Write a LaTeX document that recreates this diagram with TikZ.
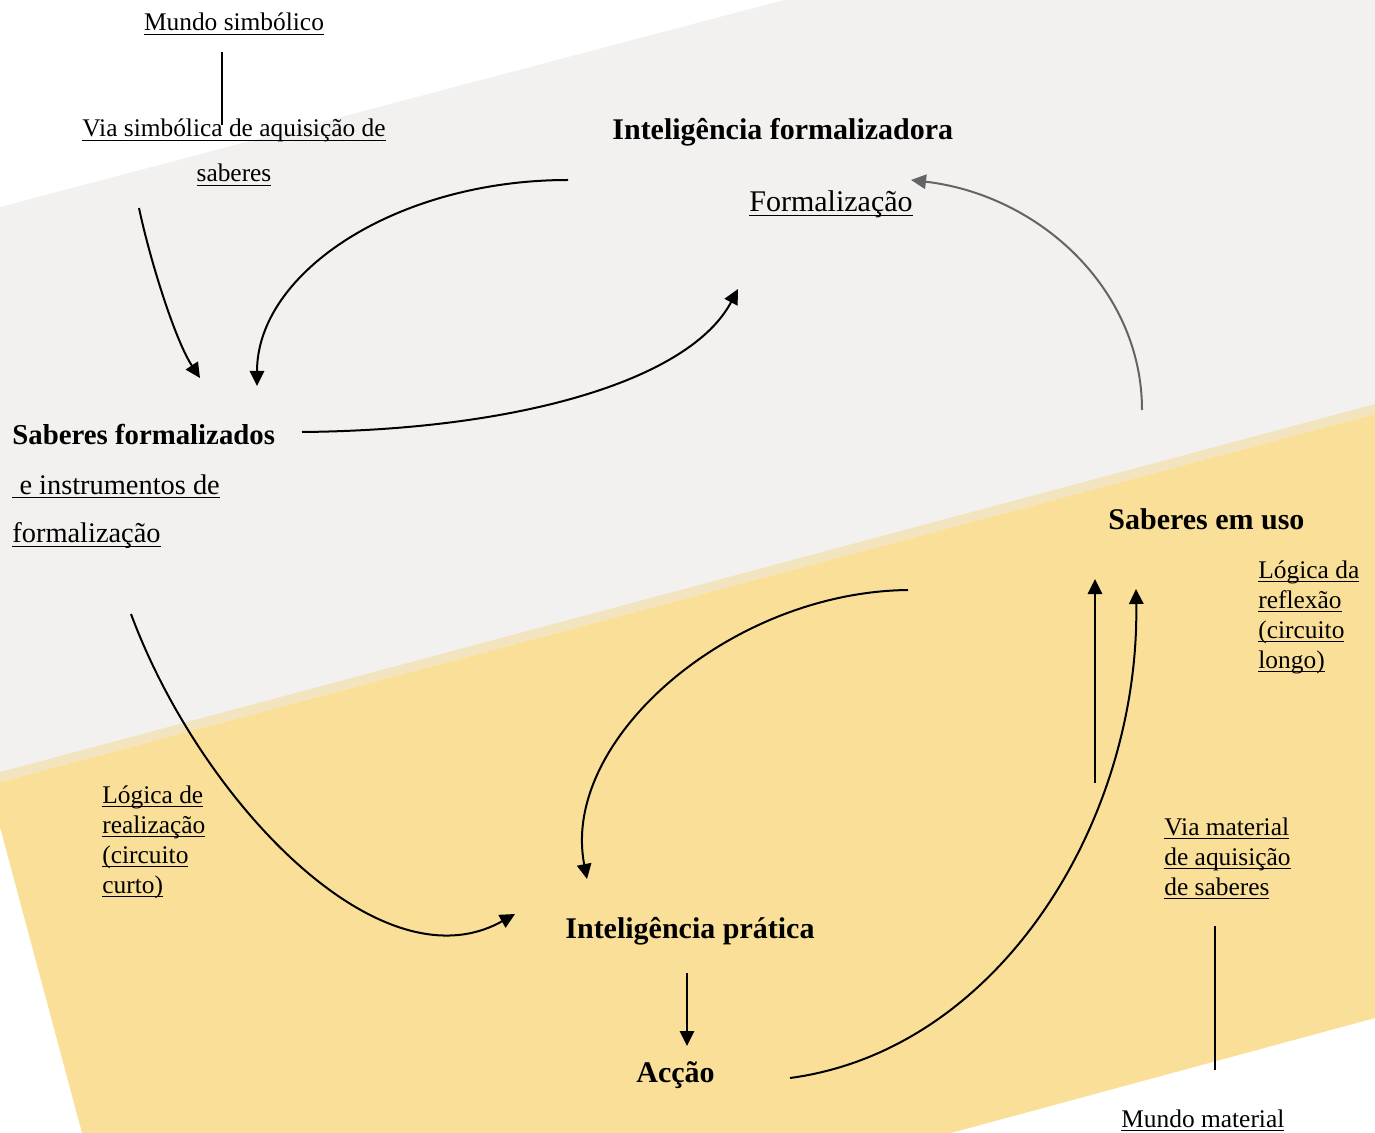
\documentclass[tikz,border=0pt]{standalone}
\usepackage{fontspec}
\setmainfont{Liberation Serif}
\usetikzlibrary{arrows.meta}
\definecolor{bandgray}{RGB}{242,241,239}
\definecolor{bandedge}{RGB}{243,228,192}
\definecolor{bandyellow}{RGB}{249,223,152}
\definecolor{arcgray}{RGB}{100,100,100}
\newsavebox\ulbox
\newcommand{\ulin}[1]{\sbox\ulbox{#1}\rlap{\rule[-1.8pt]{\wd\ulbox}{0.5pt}}\usebox\ulbox}

\begin{document}
\begin{tikzpicture}[x=0.5pt,y=-0.5pt,
  txt/.style={inner sep=0pt,font=\fontsize{12.7}{15}\selectfont},
  ttl/.style={inner sep=0pt,font=\bfseries\fontsize{15}{18}\selectfont},
  arr/.style={line width=1pt,-{Triangle[length=7.5pt,width=7.2pt]}}]
\useasboundingbox (0,0) rectangle (1375,1133);
\fill[bandgray] (0,207) -- (784,0) -- (1375,0) -- (1375,404) -- (0,772) -- cycle;
\fill[bandedge] (0,772) -- (1375,404) -- (1375,414) -- (0,782) -- cycle;
\fill[bandyellow] (0,782) -- (1375,414) -- (1375,1018) -- (951,1133) -- (82,1133) -- (0,827) -- cycle;

\node[txt,anchor=base] (msimb) at (234,31) {\ulin{Mundo simbólico}};
\node[txt,anchor=base,align=center,font=\fontsize{12.7}{22.5}\selectfont] (vsimb) at (234,182) {\ulin{Via simbólica de aquisição de}\\\ulin{saberes}};
\node[ttl,anchor=base west] (iform) at (612,140) {Inteligência formalizadora};
\node[txt,anchor=base west,font=\fontsize{15}{18}\selectfont] (formz) at (749,212) {\ulin{Formalização}};
\node[ttl,anchor=base west,font=\bfseries\fontsize{14.4}{18}\selectfont] (sform) at (12,445) {Saberes formalizados};
\node[txt,anchor=base west,align=left,font=\fontsize{14.2}{24.5}\selectfont] (sinst) at (12,543) {\ulin{~e instrumentos de}\\\ulin{formalização}};
\node[txt,anchor=base west,align=left] (lreal) at (102,893) {\ulin{Lógica de}\\\ulin{realização}\\\ulin{(circuito}\\\ulin{curto)}};
\node[ttl,anchor=base west] (suso) at (1108,530) {Saberes em uso};
\node[txt,anchor=base west,align=left] (lrefl) at (1258,668) {\ulin{Lógica da}\\\ulin{reflexão}\\\ulin{(circuito}\\\ulin{longo)}};
\node[ttl,anchor=base west] (iprat) at (565,938) {Inteligência prática};
\node[ttl,anchor=base west] (accao) at (636,1082) {Acção};
\node[txt,anchor=base west,align=left] (vmat) at (1164,895) {\ulin{Via material}\\\ulin{de aquisição}\\\ulin{de saberes}};
\node[txt,anchor=base west] (mmat) at (1121,1127) {\ulin{Mundo material}};

\coordinate (msimbE) at (222,52);
\coordinate (vsimbE) at (222,125);
\coordinate (vsimbS) at (139,208);
\coordinate (sformN) at (200,378);
\coordinate (iformW) at (568,180);
\coordinate (sformT) at (257,386);
\coordinate (sformE) at (302,432);
\coordinate (formzS) at (738,289);
\coordinate (susoN) at (1142,410);
\coordinate (formzE) at (911,180);
\coordinate (sinstS) at (131,614);
\coordinate (ipratW) at (515,914);
\coordinate (susoW) at (908,590);
\coordinate (ipratN) at (587,879);
\coordinate (ipratS) at (687,973);
\coordinate (accaoN) at (687,1046);
\coordinate (accaoE) at (790,1078);
\coordinate (susoR) at (1136,589);
\coordinate (vmatL) at (1095,783);
\coordinate (susoL) at (1095,579);
\coordinate (vmatS) at (1215,926);
\coordinate (mmatN) at (1215,1070);

\draw[line width=1pt] (msimbE) -- (vsimbE);
\draw[arr] (vsimbS) .. controls (150,260) and (175,340) .. (sformN);
\draw[arr] (iformW) .. controls (397,180) and (257,272) .. (sformT);
\draw[arr] (sformE) .. controls (520,430) and (690,380) .. (formzS);
\draw[arr,arcgray] (susoN) .. controls (1142,290) and (1040,195) .. (formzE);
\draw[arr] (sinstS) .. controls (200,800) and (380,990) .. (ipratW);
\draw[arr] (susoW) .. controls (730,592) and (560,740) .. (ipratN);
\draw[arr] (ipratS) -- (accaoN);
\draw[arr] (accaoE) .. controls (1000,1050) and (1140,820) .. (susoR);
\draw[arr] (vmatL) -- (susoL);
\draw[line width=1pt] (vmatS) -- (mmatN);
\end{tikzpicture}
\end{document}
